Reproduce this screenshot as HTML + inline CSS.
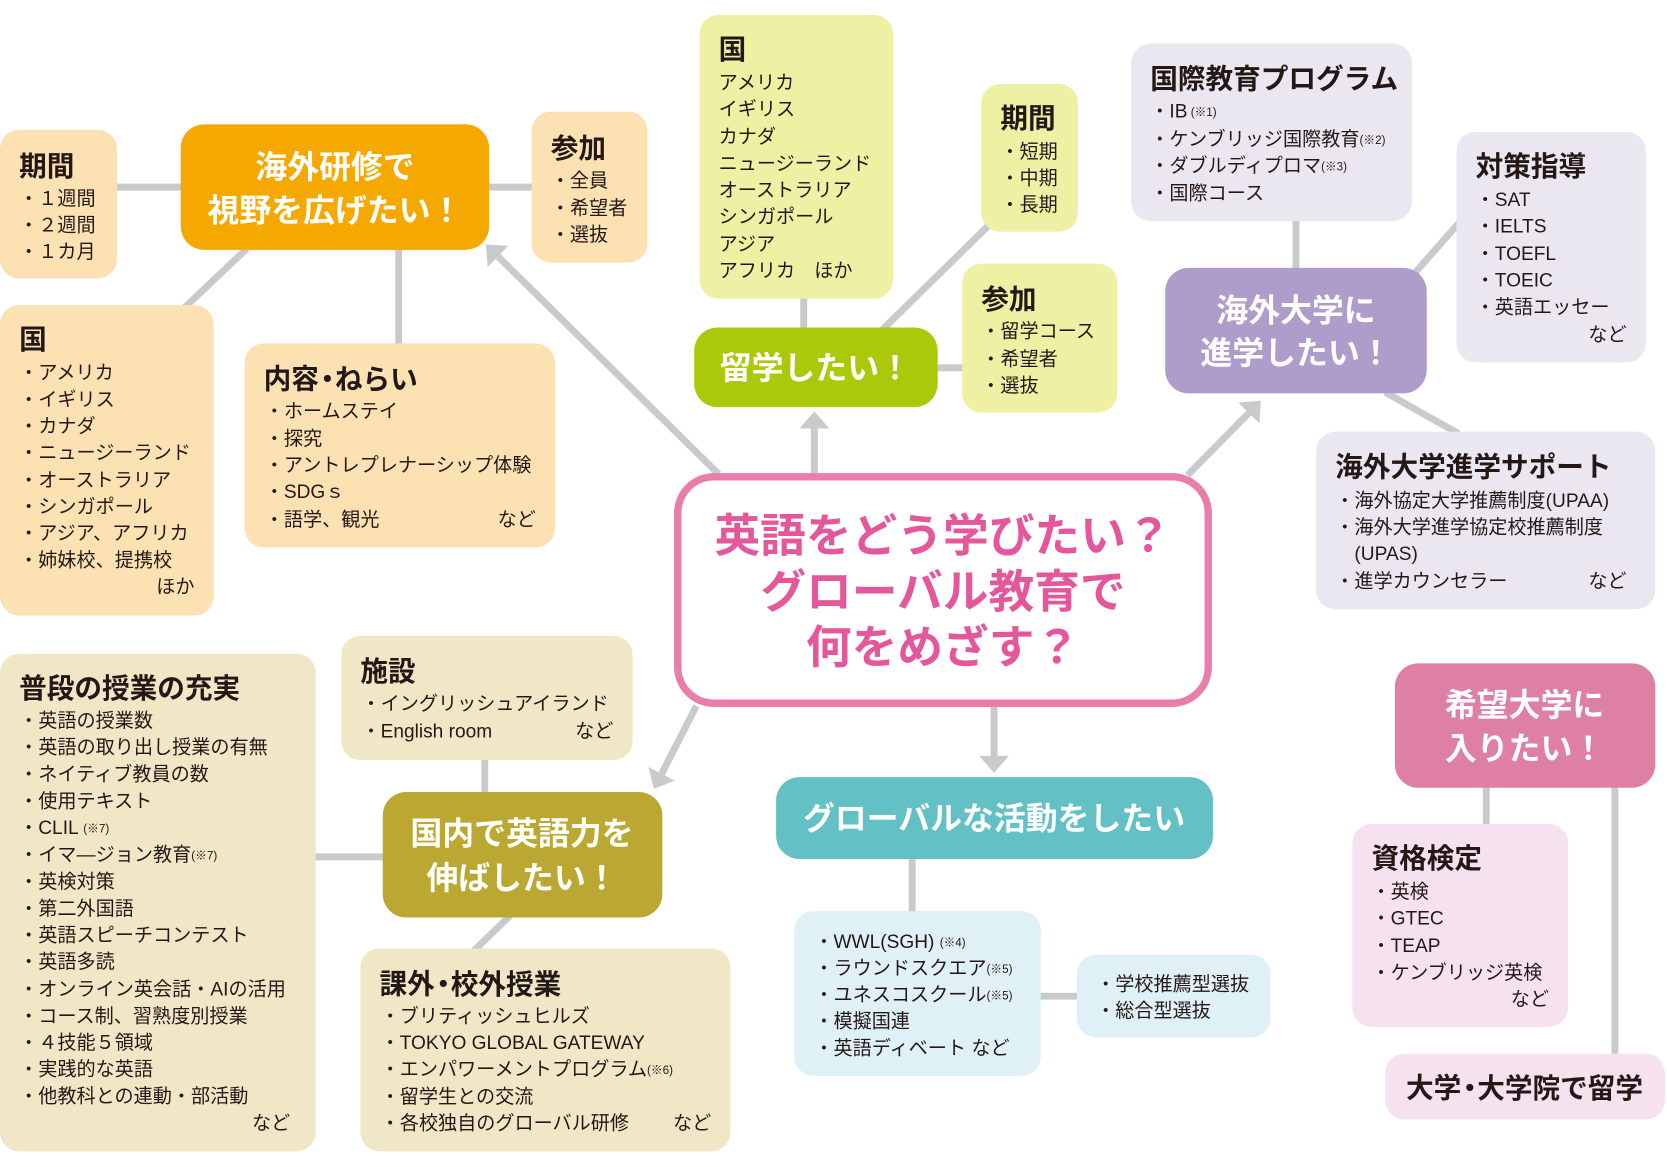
<!DOCTYPE html>
<html><head><meta charset="utf-8"><style>
html,body{margin:0;padding:0;background:#fff;}
svg{display:block;}
.t{font-family:"Liberation Sans","Noto Sans CJK JP",sans-serif;font-weight:700;font-size:26px;fill:#231815;dominant-baseline:central;transform:translateY(1.5px);}
.i{font-family:"Liberation Sans","Noto Sans CJK JP",sans-serif;font-weight:400;font-size:18px;fill:#231815;dominant-baseline:central;transform:translateY(1.5px);}
.s{font-size:11px;}
.h{font-family:"Liberation Sans","Noto Sans CJK JP",sans-serif;font-weight:700;font-size:30px;fill:#fff;dominant-baseline:central;text-anchor:middle;}
.c{font-family:"Liberation Sans","Noto Sans CJK JP",sans-serif;font-weight:700;font-size:43px;fill:#e5579b;dominant-baseline:central;text-anchor:middle;transform:translateY(1px);}
.r{text-anchor:end;}
.ln{stroke:#c9cacb;stroke-width:6.5;fill:none;}
.ar{fill:#c9cacb;}
</style></head><body>
<svg width="1667" height="1167" viewBox="0 0 1568 1097.7" preserveAspectRatio="none" xmlns="http://www.w3.org/2000/svg">
<!-- connectors -->
<line class="ln" x1="110" y1="176" x2="172" y2="176"/>
<line class="ln" x1="458" y1="176" x2="502" y2="176"/>
<line class="ln" x1="232" y1="234" x2="174" y2="289"/>
<line class="ln" x1="375" y1="233" x2="375" y2="325"/>
<line class="ln" x1="756" y1="279" x2="756" y2="310"/>
<line class="ln" x1="830" y1="310" x2="930" y2="212"/>
<line class="ln" x1="880" y1="346" x2="907" y2="346"/>
<line class="ln" x1="1219" y1="206" x2="1219" y2="254"/>
<line class="ln" x1="1328" y1="260" x2="1372" y2="210"/>
<line class="ln" x1="1303" y1="369" x2="1372" y2="408"/>
<line class="ln" x1="456" y1="713" x2="456" y2="747"/>
<line class="ln" x1="295" y1="806" x2="362" y2="806"/>
<line class="ln" x1="480" y1="861" x2="446" y2="894"/>
<line class="ln" x1="858" y1="806" x2="858" y2="859"/>
<line class="ln" x1="977" y1="937" x2="1015" y2="937"/>
<line class="ln" x1="1398" y1="739" x2="1398" y2="777"/>
<line class="ln" x1="1519" y1="739" x2="1519" y2="993"/>
<!-- arrows -->
<line class="ln" x1="676" y1="446" x2="468.4" y2="241.2"/>
<polygon class="ar" points="457,230 478.2,231.2 458.6,251.2"/>
<line class="ln" x1="766" y1="447" x2="766" y2="402"/>
<polygon class="ar" points="766,387 780,403 752,403"/>
<line class="ln" x1="1117" y1="447" x2="1174.8" y2="388.4"/>
<polygon class="ar" points="1186,377 1184.7,398.2 1164.8,378.6"/>
<line class="ln" x1="655" y1="664" x2="622.4" y2="727.8"/>
<polygon class="ar" points="615,742 634.8,734.3 610,721.4"/>
<line class="ln" x1="935" y1="664" x2="935" y2="712"/>
<polygon class="ar" points="935,727 949,711 921,711"/>

<!-- top-left cluster -->
<rect x="0" y="122" width="110" height="140" rx="18" fill="#fce1b3"/>
<text class="t" x="18" y="155">期間</text>
<text class="i" x="18" y="186">・１週間</text>
<text class="i" x="18" y="211">・２週間</text>
<text class="i" x="18" y="236">・１カ月</text>

<rect x="170" y="117" width="290" height="118" rx="22" fill="#f5a800"/>
<text class="h" x="315" y="157">海外研修で</text>
<text class="h" x="315" y="198">視野を広げたい！</text>

<rect x="500" y="105" width="109" height="142" rx="18" fill="#fce1b3"/>
<text class="t" x="518" y="138">参加</text>
<text class="i" x="518" y="169">・全員</text>
<text class="i" x="518" y="195">・希望者</text>
<text class="i" x="518" y="220">・選抜</text>

<rect x="0" y="287" width="201" height="292" rx="18" fill="#fce1b3"/>
<text class="t" x="18" y="318">国</text>
<text class="i" x="18" y="350">・アメリカ</text>
<text class="i" x="18" y="375">・イギリス</text>
<text class="i" x="18" y="400">・カナダ</text>
<text class="i" x="18" y="425">・ニュージーランド</text>
<text class="i" x="18" y="451">・オーストラリア</text>
<text class="i" x="18" y="476">・シンガポール</text>
<text class="i" x="18" y="501">・アジア、アフリカ</text>
<text class="i" x="18" y="526">・姉妹校、提携校</text>
<text class="i r" x="183" y="551">ほか</text>

<rect x="230" y="323" width="292" height="192" rx="18" fill="#fce1b3"/>
<text class="t" x="248" y="355">内容<tspan dx="-5">・</tspan><tspan dx="-6">ねらい</tspan></text>
<text class="i" x="249" y="386">・ホームステイ</text>
<text class="i" x="249" y="412">・探究</text>
<text class="i" x="249" y="437">・アントレプレナーシップ体験</text>
<text class="i" x="249" y="462">・SDGｓ</text>
<text class="i" x="249" y="488">・語学、観光</text>
<text class="i r" x="504" y="488">など</text>

<!-- top-middle cluster -->
<rect x="658" y="14" width="182" height="267" rx="18" fill="#eef0a4"/>
<text class="t" x="676" y="45">国</text>
<text class="i" x="676" y="77">アメリカ</text>
<text class="i" x="676" y="102">イギリス</text>
<text class="i" x="676" y="128">カナダ</text>
<text class="i" x="676" y="153">ニュージーランド</text>
<text class="i" x="676" y="178">オーストラリア</text>
<text class="i" x="676" y="203">シンガポール</text>
<text class="i" x="676" y="229">アジア</text>
<text class="i" x="676" y="254">アフリカ　ほか</text>

<rect x="923" y="79" width="91" height="139" rx="18" fill="#eef0a4"/>
<text class="t" x="941" y="110">期間</text>
<text class="i" x="941" y="142">・短期</text>
<text class="i" x="941" y="167">・中期</text>
<text class="i" x="941" y="192">・長期</text>

<rect x="905" y="248" width="146" height="140" rx="18" fill="#eef0a4"/>
<text class="t" x="923" y="280">参加</text>
<text class="i" x="923" y="311">・留学コース</text>
<text class="i" x="923" y="337">・希望者</text>
<text class="i" x="923" y="362">・選抜</text>

<rect x="653" y="308" width="229" height="75" rx="22" fill="#abc80a"/>
<text class="h" x="767" y="346">留学したい！</text>

<!-- top-right cluster -->
<rect x="1064" y="41" width="264" height="167" rx="18" fill="#ebe7f1"/>
<text class="t" x="1082" y="73">国際教育プログラム</text>
<text class="i" x="1082" y="104">・IB<tspan class="s" dx="3">(※1)</tspan></text>
<text class="i" x="1082" y="130">・ケンブリッジ国際教育<tspan class="s">(※2)</tspan></text>
<text class="i" x="1082" y="155">・ダブルディプロマ<tspan class="s">(※3)</tspan></text>
<text class="i" x="1082" y="181">・国際コース</text>

<rect x="1370" y="124" width="178" height="217" rx="18" fill="#ebe7f1"/>
<text class="t" x="1388" y="155">対策指導</text>
<text class="i" x="1388" y="187">・SAT</text>
<text class="i" x="1388" y="212">・IELTS</text>
<text class="i" x="1388" y="238">・TOEFL</text>
<text class="i" x="1388" y="263">・TOEIC</text>
<text class="i" x="1388" y="288">・英語エッセー</text>
<text class="i r" x="1530" y="314">など</text>

<rect x="1096" y="252" width="246" height="118" rx="22" fill="#ae9ccb"/>
<text class="h" x="1219" y="292">海外大学に</text>
<text class="h" x="1219" y="332">進学したい！</text>

<rect x="1238" y="406" width="319" height="167" rx="18" fill="#ebe7f1"/>
<text class="t" x="1256" y="438">海外大学進学サポート</text>
<text class="i" x="1256" y="470">・海外協定大学推薦制度(UPAA)</text>
<text class="i" x="1256" y="495">・海外大学進学協定校推薦制度</text>
<text class="i" x="1274" y="520">(UPAS)</text>
<text class="i" x="1256" y="546">・進学カウンセラー</text>
<text class="i r" x="1530" y="546">など</text>

<!-- center -->
<rect x="637.5" y="448.5" width="499" height="213" rx="34" fill="#fff" stroke="#ea7eab" stroke-width="7"/>
<text class="c" x="887" y="503">英語をどう学びたい？</text>
<text class="c" x="887" y="556">グローバル教育で</text>
<text class="c" x="887" y="608">何をめざす？</text>

<!-- bottom-left cluster -->
<rect x="321" y="598" width="274" height="117" rx="18" fill="#efe7c5"/>
<text class="t" x="339" y="630">施設</text>
<text class="i" x="340" y="661">・イングリッシュアイランド</text>
<text class="i" x="340" y="687">・English room</text>
<text class="i r" x="577" y="687">など</text>

<rect x="0" y="615" width="297" height="468" rx="18" fill="#efe7c5"/>
<text class="t" x="18" y="646">普段の授業の充実</text>
<text class="i" x="18" y="677">・英語の授業数</text>
<text class="i" x="18" y="702">・英語の取り出し授業の有無</text>
<text class="i" x="18" y="727.5">・ネイティブ教員の数</text>
<text class="i" x="18" y="753">・使用テキスト</text>
<text class="i" x="18" y="778">・CLIL <tspan class="s">(※7)</tspan></text>
<text class="i" x="18" y="803">・イマ―ジョン教育<tspan class="s">(※7)</tspan></text>
<text class="i" x="18" y="828.5">・英検対策</text>
<text class="i" x="18" y="854">・第二外国語</text>
<text class="i" x="18" y="879">・英語スピーチコンテスト</text>
<text class="i" x="18" y="904">・英語多読</text>
<text class="i" x="18" y="929.5">・オンライン英会話・AIの活用</text>
<text class="i" x="18" y="955">・コース制、習熟度別授業</text>
<text class="i" x="18" y="980">・４技能５領域</text>
<text class="i" x="18" y="1005">・実践的な英語</text>
<text class="i" x="18" y="1030.5">・他教科との連動・部活動</text>
<text class="i r" x="273" y="1056">など</text>

<rect x="360" y="745" width="263" height="118" rx="22" fill="#bba832"/>
<text class="h" x="491" y="784">国内で英語力を</text>
<text class="h" x="491" y="826">伸ばしたい！</text>

<rect x="339" y="892" width="348" height="191" rx="18" fill="#efe7c5"/>
<text class="t" x="357" y="924">課外<tspan dx="-5">・</tspan><tspan dx="-6">校外授業</tspan></text>
<text class="i" x="358" y="955">・ブリティッシュヒルズ</text>
<text class="i" x="358" y="980">・TOKYO GLOBAL GATEWAY</text>
<text class="i" x="358" y="1005">・エンパワーメントプログラム<tspan class="s">(※6)</tspan></text>
<text class="i" x="358" y="1031">・留学生との交流</text>
<text class="i" x="358" y="1056">・各校独自のグローバル研修</text>
<text class="i r" x="669" y="1056">など</text>

<!-- bottom-middle -->
<rect x="730" y="731" width="411" height="77" rx="22" fill="#63c0c4"/>
<text class="h" x="935" y="770">グローバルな活動をしたい</text>

<rect x="747" y="857" width="232" height="155" rx="18" fill="#dff0f6"/>
<text class="i" x="766" y="885">・WWL(SGH) <tspan class="s">(※4)</tspan></text>
<text class="i" x="766" y="910">・ラウンドスクエア<tspan class="s">(※5)</tspan></text>
<text class="i" x="766" y="935">・ユネスコスクール<tspan class="s">(※5)</tspan></text>
<text class="i" x="766" y="960">・模擬国連</text>
<text class="i" x="766" y="985">・英語ディベート など</text>

<rect x="1013" y="898" width="182" height="78" rx="18" fill="#dff0f6"/>
<text class="i" x="1031" y="925">・学校推薦型選抜</text>
<text class="i" x="1031" y="950">・総合型選抜</text>

<!-- bottom-right -->
<rect x="1312" y="624" width="245" height="117" rx="22" fill="#de80a4"/>
<text class="h" x="1434" y="663">希望大学に</text>
<text class="h" x="1434" y="704">入りたい！</text>

<rect x="1272" y="775" width="203" height="191" rx="18" fill="#f6e2ef"/>
<text class="t" x="1290" y="806">資格検定</text>
<text class="i" x="1290" y="838">・英検</text>
<text class="i" x="1290" y="863">・GTEC</text>
<text class="i" x="1290" y="889">・TEAP</text>
<text class="i" x="1290" y="914">・ケンブリッジ英検</text>
<text class="i r" x="1457" y="939">など</text>

<rect x="1303" y="991" width="263" height="62" rx="18" fill="#f6e2ef"/>
<text class="t" x="1434" y="1022" text-anchor="middle">大学<tspan dx="-5">・</tspan><tspan dx="-6">大学院で留学</tspan></text>
</svg>
</body></html>
